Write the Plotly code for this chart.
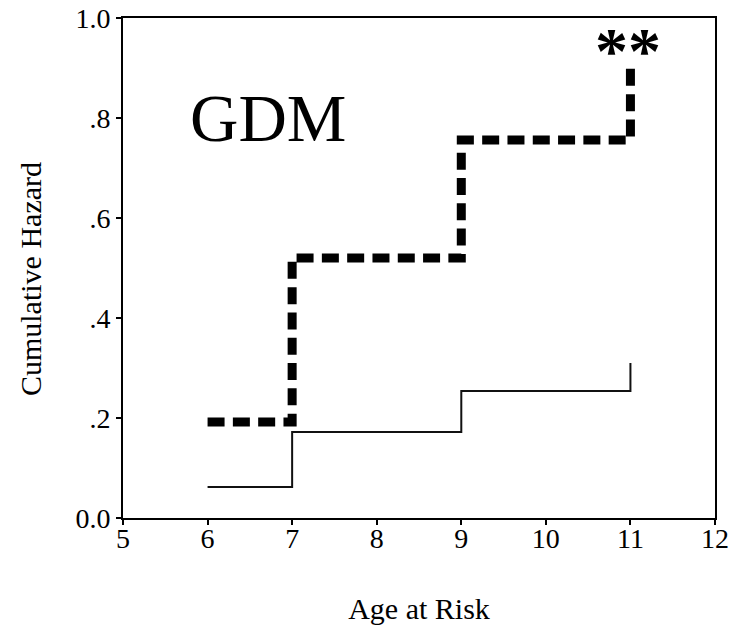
import plotly.graph_objects as go

# Cumulative hazard by age at risk
ages = [6, 7, 9, 11]
gdm_hazard = [0.192, 0.52, 0.756, 0.90]
control_hazard = [0.062, 0.172, 0.254, 0.31]

x_ticks = [5, 6, 7, 8, 9, 10, 11, 12]
y_ticks = [0.0, 0.2, 0.4, 0.6, 0.8, 1.0]
y_tick_text = ["0.0", ".2", ".4", ".6", ".8", "1.0"]

FONT = "Liberation Serif, Times New Roman, serif"

fig = go.Figure()

fig.add_trace(go.Scatter(
    x=ages, y=control_hazard, mode="lines",
    line=dict(shape="hv", color="#111111", width=2),
    showlegend=False, hoverinfo="skip",
))
fig.add_trace(go.Scatter(
    x=ages, y=gdm_hazard, mode="lines",
    line=dict(shape="hv", color="#000000", width=9, dash="17px,8.3px"),
    showlegend=False, hoverinfo="skip",
))

fig.add_annotation(x=6.72, y=0.80, text="GDM", showarrow=False,
                   font=dict(family=FONT, size=67, color="#000"),
                   xanchor="center", yanchor="middle")
fig.add_annotation(x=10.97, y=0.935, text="<b>**</b>", showarrow=False,
                   font=dict(family=FONT, size=66, color="#000"),
                   xanchor="center", yanchor="middle")

# Vertical axis title, placed as a rotated annotation left of the tick labels
fig.add_annotation(xref="paper", yref="paper", x=-0.157, y=0.478,
                   text="Cumulative Hazard", textangle=-90, showarrow=False,
                   font=dict(family=FONT, size=30, color="#000"),
                   xanchor="center", yanchor="middle")

axis_common = dict(
    showline=True, linecolor="#000", linewidth=2, mirror=True,
    ticks="outside", ticklen=5, tickwidth=1.5, tickcolor="#000",
    showgrid=False, zeroline=False, automargin=False,
    tickfont=dict(family=FONT, size=28, color="#000"),
)

fig.update_xaxes(
    range=[5, 12], tickvals=x_ticks, ticklabelstandoff=-11,
    title=dict(text="Age at Risk", font=dict(family=FONT, size=30, color="#000"), standoff=45),
    **axis_common,
)
fig.update_yaxes(
    range=[0, 1.0], tickvals=y_ticks, ticktext=y_tick_text,
    **axis_common,
)

fig.update_layout(
    width=734, height=638,
    margin=dict(l=123, r=19, t=18, b=120),
    paper_bgcolor="white", plot_bgcolor="white",
)

fig.write_html("out.html")
